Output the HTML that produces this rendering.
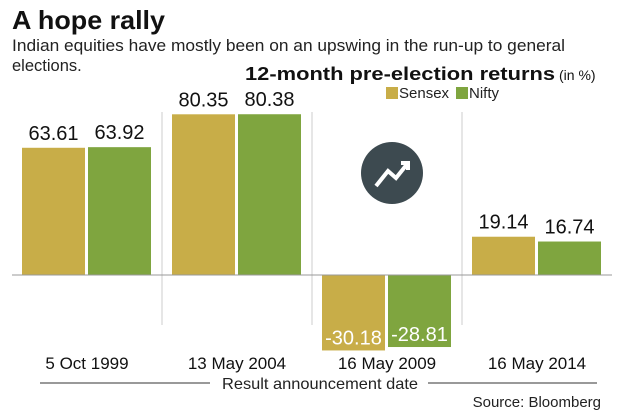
<!DOCTYPE html>
<html><head><meta charset="utf-8"><style>
body{margin:0;background:#fff;font-family:"Liberation Sans",sans-serif;}
svg{display:block}
</style></head><body>
<svg width="621" height="414" viewBox="0 0 621 414">
<text x="12" y="29" font-size="26" font-weight="bold" fill="#111" textLength="153" lengthAdjust="spacingAndGlyphs">A hope rally</text>
<text x="12" y="51" font-size="16.5" fill="#222" textLength="553" lengthAdjust="spacingAndGlyphs">Indian equities have mostly been on an upswing in the run-up to general</text>
<text x="12" y="71" font-size="16.5" fill="#222">elections.</text>
<text x="245" y="80" font-size="18" font-weight="bold" fill="#111" textLength="310" lengthAdjust="spacingAndGlyphs">12-month pre-election returns</text>
<text x="559" y="80" font-size="14" fill="#111">(in %)</text>
<rect x="386" y="87" width="12" height="12" fill="#c8ad48"/>
<text x="399" y="98" font-size="15" fill="#222">Sensex</text>
<rect x="456" y="87" width="12" height="12" fill="#7fa53f"/>
<text x="469" y="98" font-size="15" fill="#222">Nifty</text>
<g id="plot"></g>
<circle cx="392" cy="173" r="31" fill="#3d4a50"/>
<path d="M376 186 L388 171 L396 178 L408 163 M401 163 L408 163 L408 170" stroke="#fff" stroke-width="4" fill="none"/>
<line x1="40" y1="383" x2="210" y2="383" stroke="#333" stroke-width="1"/>
<line x1="428" y1="383" x2="597" y2="383" stroke="#333" stroke-width="1"/>
<text x="222" y="389" font-size="16" fill="#222" textLength="196" lengthAdjust="spacingAndGlyphs">Result announcement date</text>
<text x="601" y="407" font-size="15" text-anchor="end" fill="#222">Source: Bloomberg</text>
</svg>
<script>
const categories=["5 Oct 1999","13 May 2004","16 May 2009","16 May 2014"];
const sensex=[63.61,80.35,-30.18,19.14];
const nifty=[63.92,80.38,-28.81,16.74];
const NS="http://www.w3.org/2000/svg";
const g=document.getElementById('plot');
const base=275;
function y(v){return v>=0?base-v*2.0:base-v*2.5;}
function gx(i){return 12+i*150;}
function mk(t,a){const e=document.createElementNS(NS,t);for(const k in a)e.setAttribute(k,a[k]);g.appendChild(e);return e;}
for(let i=1;i<categories.length;i++){
  const s=mk('line',{x1:gx(i),x2:gx(i),y1:112,y2:325,stroke:'#ccc','stroke-width':1});
  
  
}
const series=[{d:sensex,c:'#c8ad48',o:10,n:'sensex'},{d:nifty,c:'#7fa53f',o:76,n:'nifty'}];
categories.forEach((cat,i)=>{
  series.forEach(s=>{
    const v=s.d[i],x=gx(i)+s.o,w=63;
    const top=Math.min(y(v),base),h=Math.abs(y(v)-base);
    const r=mk('rect',{x:x,y:top,width:w,height:h,fill:s.c});
    
    
    const t=mk('text',{x:x+w/2,y:v>=0?y(v)-8:y(v)-6,'font-size':20,'text-anchor':'middle',fill:v>=0?'#111':'#fff'});
    t.textContent=v.toFixed(2);
    
    
  });
  const l=mk('text',{x:gx(i)+75,y:369,'font-size':17,'text-anchor':'middle',fill:'#111'});
  l.textContent=cat;
  
  
});
const b=mk('line',{x1:12,x2:612,y1:base,y2:base,stroke:'#999','stroke-width':1});


</script>
</body></html>
